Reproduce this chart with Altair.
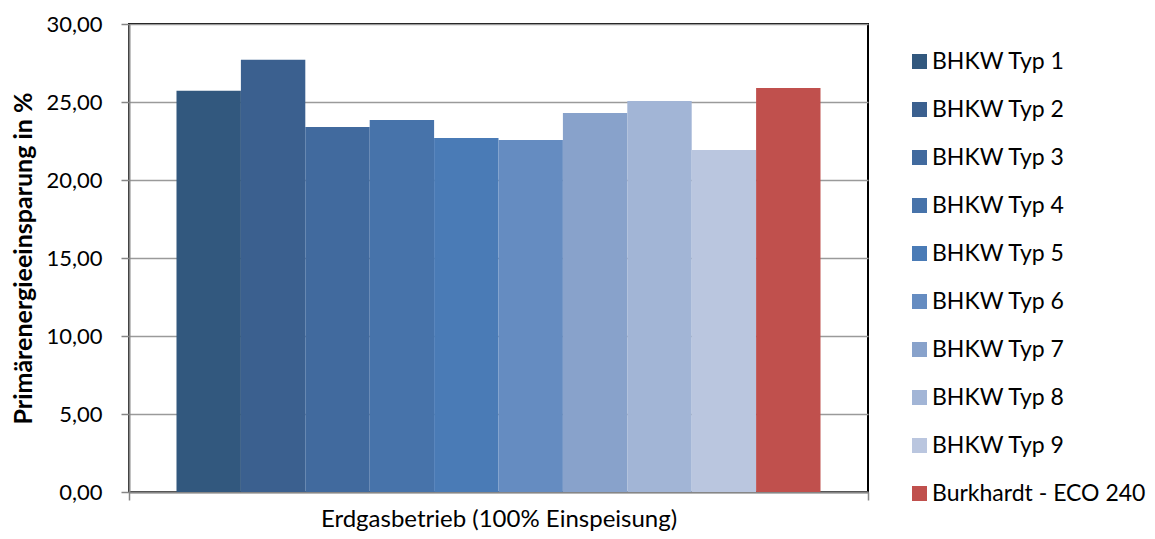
import altair as alt
import pandas as pd

categories = ["Erdgasbetrieb (100% Einspeisung)"]
series = ["BHKW Typ 1", "BHKW Typ 2", "BHKW Typ 3", "BHKW Typ 4", "BHKW Typ 5",
          "BHKW Typ 6", "BHKW Typ 7", "BHKW Typ 8", "BHKW Typ 9", "Burkhardt - ECO 240"]
values = [25.72, 27.71, 23.40, 23.85, 22.69, 22.56, 24.29, 25.06, 21.92, 25.90]
colors = ["#32587E", "#3B608F", "#416A9E", "#4773AA", "#4A7BB6",
          "#658CC1", "#88A2CB", "#A2B5D6", "#BAC6DF", "#C0504D"]
y_ticks = [0, 5, 10, 15, 20, 25, 30]

df = pd.DataFrame({"cat": categories * len(series), "series": series, "value": values})

FONT = "Lato"

chart = alt.Chart(df).mark_bar().encode(
    x=alt.X("cat:N", title=None,
            scale=alt.Scale(paddingInner=0, paddingOuter=0),
            axis=alt.Axis(labelAngle=0, labelFontSize=24, labelColor="#000000",
                          labelPadding=7, labelLimit=600, tickBand="extent", tickSize=8,
                          tickColor="#868686", tickWidth=1.5,
                          domainColor="#868686", domainWidth=2)),
    xOffset=alt.XOffset("series:N", sort=series,
                        scale=alt.Scale(paddingInner=0, paddingOuter=0.7375)),
    y=alt.Y("value:Q", title="Primärenergieeinsparung in %",
            scale=alt.Scale(domain=[0, 30], nice=False),
            axis=alt.Axis(values=y_ticks,
                          labelExpr="replace(format(datum.value, '.2f'), '.', ',')",
                          labelFontSize=22, labelColor="#000000", labelPadding=19,
                          tickSize=8, tickColor="#868686", tickWidth=1.5,
                          domainColor="#868686", domainWidth=2,
                          grid=True, gridColor="#9A9A9A", gridWidth=1.6,
                          titleFontSize=25, titleFontWeight="bold", titleColor="#000000",
                          titleX=-106, titleY=234, titleAngle=270,
                          titleBaseline="middle", titleAlign="center")),
    color=alt.Color("series:N", sort=series,
                    scale=alt.Scale(domain=series, range=colors),
                    legend=alt.Legend(title=None, orient="none", legendX=779, legendY=26,
                                      symbolType="square", symbolSize=225,
                                      symbolStrokeWidth=0, labelFontSize=23,
                                      labelColor="#000000", labelOffset=1,
                                      labelLimit=400,
                                      rowPadding=24, padding=0)),
).properties(
    width=739, height=468,
    autosize=alt.AutoSizeParams(type="none"),
    padding={"left": 121, "top": 16, "right": 279, "bottom": 39},
).configure(
    font=FONT,
).configure_view(
    stroke="#000000", strokeWidth=2,
)

chart.save("out.html", embed_options={"renderer": "svg", "actions": False})
